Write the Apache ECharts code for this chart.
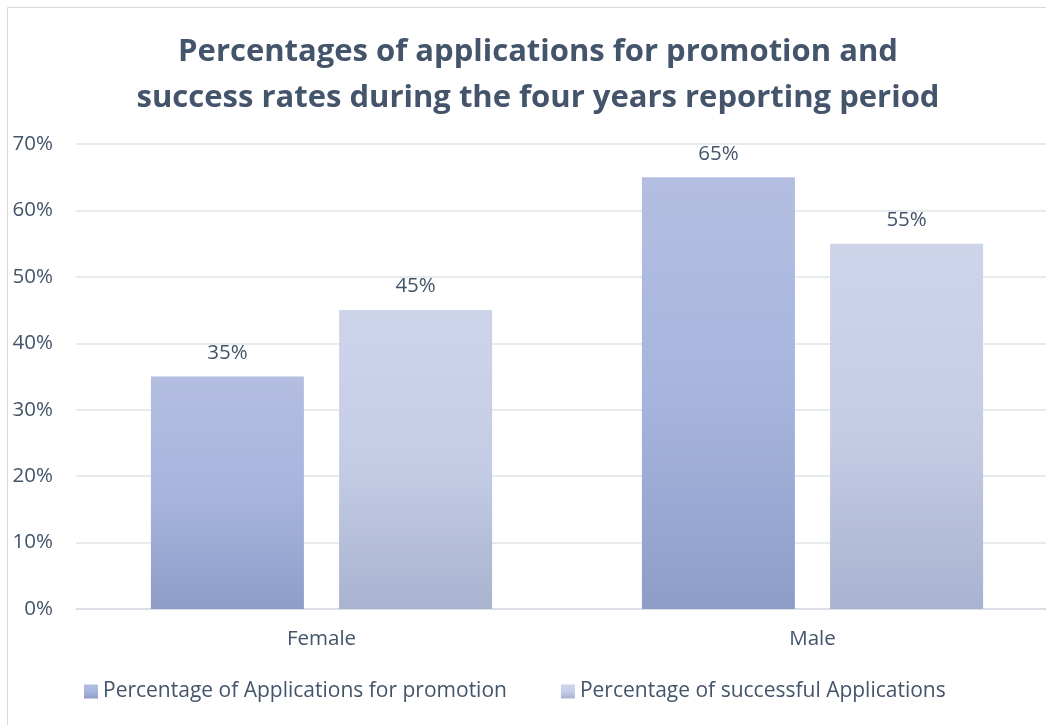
<!DOCTYPE html>
<html>
<head>
<meta charset="utf-8">
<script src="https://cdn.jsdelivr.net/npm/echarts@6/dist/echarts.min.js"></script>
<style>
  html, body { margin: 0; padding: 0; background: #ffffff; }
  #chart { width: 1046px; height: 725px; }
</style>
</head>
<body>
<div id="chart"></div>
<script>
// Promotion applications and success rates by gender
const categories = ['Female', 'Male'];
const seriesNames = ['Percentage of Applications for promotion', 'Percentage of successful Applications'];
const applications = [35, 65];
const successful = [45, 55];
const yTicks = [0, 10, 20, 30, 40, 50, 60, 70];

const textColor = '#44546a';
const font = '"Open Sans", "Noto Sans", sans-serif';

function grad(top, mid, bottom) {
  return new echarts.graphic.LinearGradient(0, 0, 0, 1, [
    { offset: 0, color: top },
    { offset: 0.5, color: mid },
    { offset: 1, color: bottom }
  ]);
}

const valueLabel = {
  show: true,
  position: 'top',
  distance: 13,
  fontFamily: font,
  fontSize: 20.5,
  color: textColor,
  formatter: p => p.value + '%'
};

const chart = echarts.init(document.getElementById('chart'), null, { renderer: 'canvas' });

chart.setOption({
  animation: false,
  backgroundColor: '#ffffff',
  textStyle: { fontFamily: font },
  title: {
    text: 'Percentages of applications for promotion and\nsuccess rates during the four years reporting period',
    left: 533,
    textAlign: 'center',
    top: 24,
    textStyle: {
      fontFamily: font,
      fontSize: 31,
      fontWeight: 'bold',
      color: textColor,
      lineHeight: 46
    }
  },
  graphic: [{
    type: 'rect',
    shape: { x: 7.5, y: 7.5, width: 1060, height: 740 },
    style: { fill: 'none', stroke: '#d9d9d9', lineWidth: 1 },
    silent: true
  }],
  legend: {
    top: 676,
    left: 79,
    itemGap: 54,
    itemWidth: 14,
    itemHeight: 14,
    icon: 'rect',
    textStyle: { fontFamily: font, fontSize: 21, color: textColor },
    data: seriesNames
  },
  grid: {
    left: 76,
    top: 144,
    width: 982,
    height: 465,
    containLabel: false,
    outerBoundsMode: 'none'
  },
  xAxis: {
    type: 'category',
    data: categories,
    axisLine: { show: true, lineStyle: { color: '#d9dde3', width: 1.5 } },
    axisTick: { show: false },
    axisLabel: { fontFamily: font, fontSize: 20.5, color: textColor, margin: 20 }
  },
  yAxis: {
    type: 'value',
    min: yTicks[0],
    max: yTicks[yTicks.length - 1],
    interval: 10,
    axisLine: { show: false },
    axisTick: { show: false },
    splitLine: { lineStyle: { color: '#dfe3e8', width: 1.5 } },
    axisLabel: {
      fontFamily: font,
      fontSize: 20.5,
      color: textColor,
      margin: 23,
      formatter: v => v + '%'
    }
  },
  series: [
    {
      name: seriesNames[0],
      type: 'bar',
      data: applications,
      barWidth: 153,
      barGap: '23%',
      itemStyle: { color: grad('#b3bee0', '#a7b5de', '#8e9dc8') },
      label: valueLabel
    },
    {
      name: seriesNames[1],
      type: 'bar',
      data: successful,
      barWidth: 153,
      itemStyle: { color: grad('#cdd4ea', '#c5cde6', '#a9b2cf') },
      label: valueLabel
    }
  ]
});
</script>
</body>
</html>
